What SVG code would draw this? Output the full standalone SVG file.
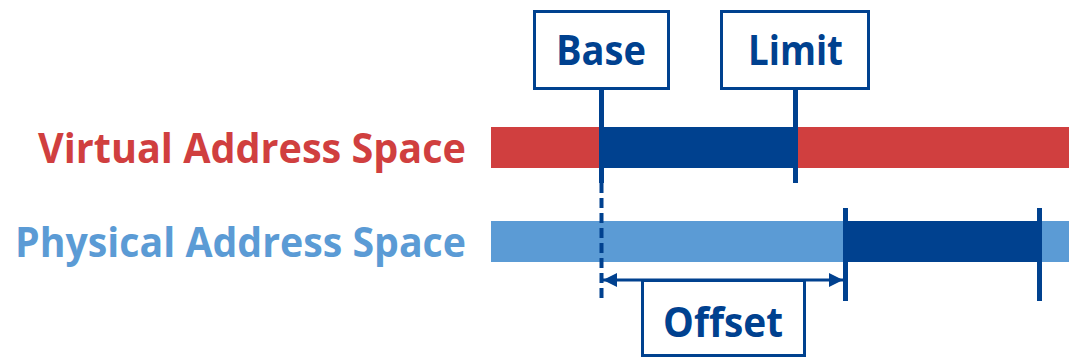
<svg xmlns="http://www.w3.org/2000/svg" width="1069" height="358" viewBox="0 0 1069 358">
  <defs>
    <style>
      .lbl { font-family: "Open Sans", "Liberation Sans", sans-serif; font-weight: bold; font-size: 42px; }
      .navy { fill: #00418F; }
      .box { fill: #FFFFFF; stroke: #00418F; stroke-width: 3; }
      .tick { stroke: #00418F; stroke-width: 5; fill: none; }
      .dash { stroke: #00418F; stroke-width: 4; stroke-dasharray: 10 5; fill: none; }
    </style>
    <marker id="head" viewBox="0 0 14 14" refX="14" refY="7" markerWidth="14" markerHeight="14" markerUnits="userSpaceOnUse" orient="auto-start-reverse">
      <path d="M0,0 L14,7 L0,14 Z" fill="#00418F"/>
    </marker>
  </defs>

  <!-- Space labels -->
  <text class="lbl" x="38" y="163" fill="#D03F3F" textLength="428" lengthAdjust="spacingAndGlyphs">Virtual Address Space</text>
  <text class="lbl" x="15" y="257" fill="#5B9BD5" textLength="451" lengthAdjust="spacingAndGlyphs">Physical Address Space</text>

  <!-- Address space bars -->
  <g id="virtual-space">
    <rect x="491" y="127" width="578" height="41" fill="#D03F3F"/>
    <rect x="601" y="127" width="196" height="41" class="navy"/>
  </g>
  <g id="physical-space">
    <rect x="491" y="221" width="578" height="41" fill="#5B9BD5"/>
    <rect x="845" y="221" width="194" height="41" class="navy"/>
  </g>

  <!-- Markers and offset arrow -->
  <g id="connectors">
    <line class="tick" x1="601.5" y1="89" x2="601.5" y2="183"/>
    <line class="dash" x1="601.5" y1="183" x2="601.5" y2="301"/>
    <line class="tick" x1="795.5" y1="89" x2="795.5" y2="183"/>
    <line class="tick" x1="845.5" y1="208" x2="845.5" y2="301"/>
    <line class="tick" x1="1039.5" y1="208" x2="1039.5" y2="301"/>
    <line x1="603" y1="280" x2="843" y2="280" stroke="#00418F" stroke-width="3" marker-start="url(#head)" marker-end="url(#head)"/>
  </g>

  <g id="base">
    <rect class="box" x="534.5" y="11.5" width="134" height="77"/>
    <text class="lbl navy" x="556" y="65" textLength="90" lengthAdjust="spacingAndGlyphs">Base</text>
  </g>
  <g id="limit">
    <rect class="box" x="721.5" y="11.5" width="147" height="77"/>
    <text class="lbl navy" x="748" y="65" textLength="95" lengthAdjust="spacingAndGlyphs">Limit</text>
  </g>
  <g id="offset">
    <rect class="box" x="642.5" y="280.5" width="162" height="75"/>
    <text class="lbl navy" x="663" y="337" textLength="120" lengthAdjust="spacingAndGlyphs">Offset</text>
  </g>
</svg>
